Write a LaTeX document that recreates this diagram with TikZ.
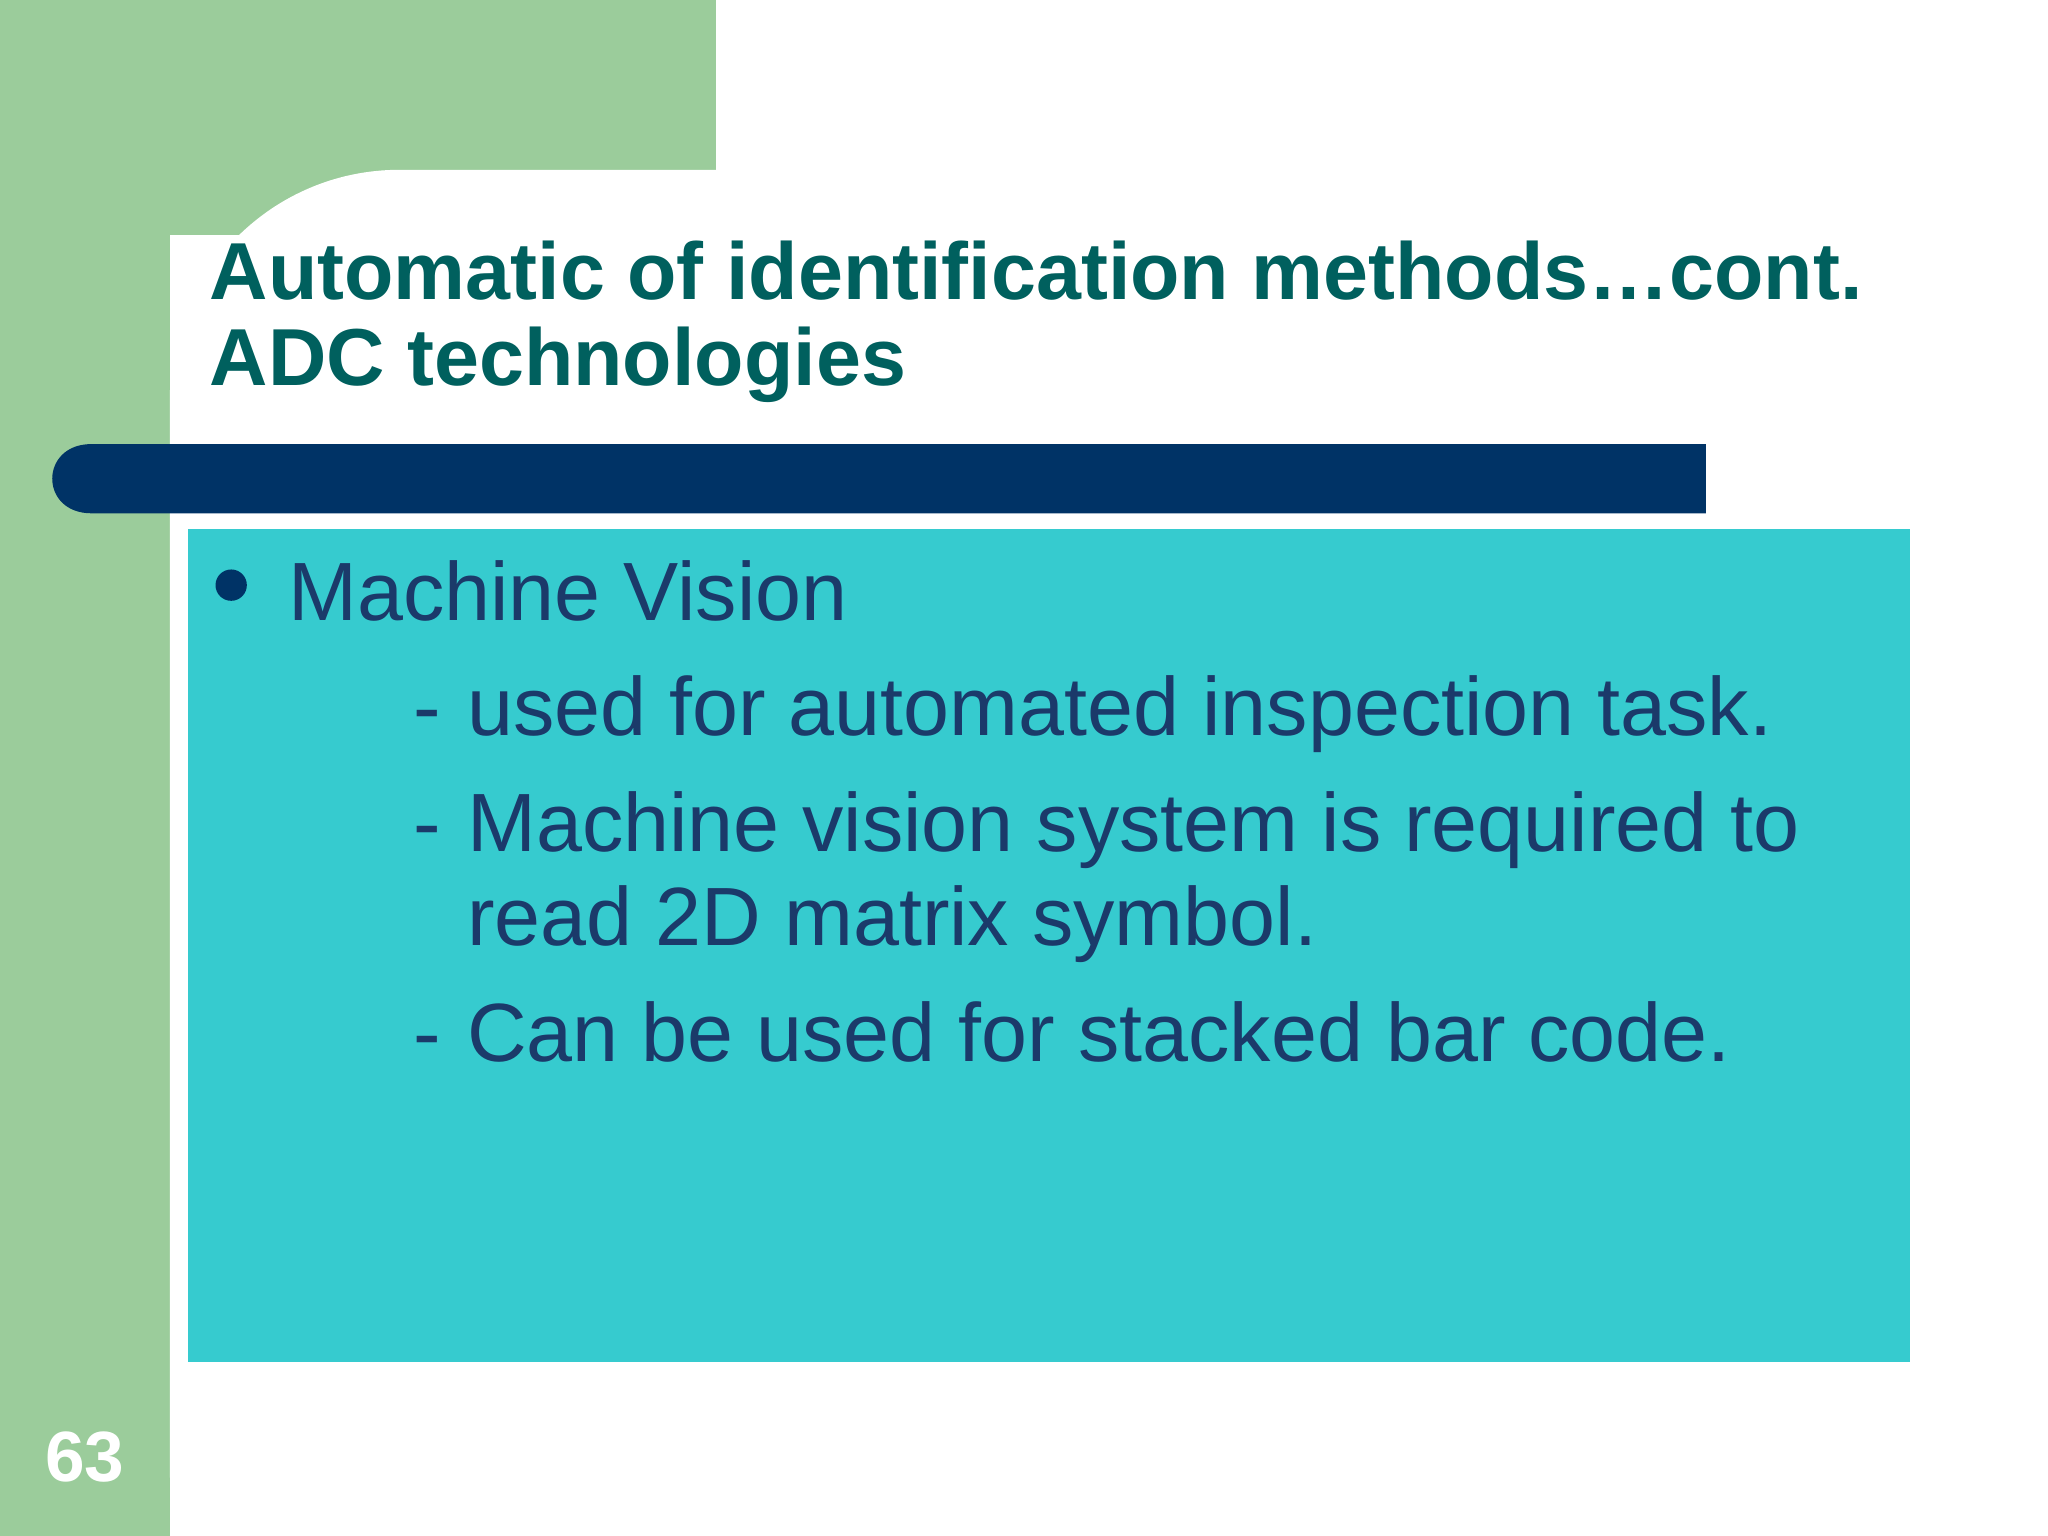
\documentclass[tikz,border=0pt]{standalone}
\usepackage{fontspec}
\setmainfont{Liberation Sans}
\definecolor{sgreen}{HTML}{9BCC9B}
\definecolor{navy}{HTML}{003366}
\definecolor{cyanbox}{HTML}{36CBCF}
\definecolor{titlec}{HTML}{00605E}
\definecolor{textc}{HTML}{1B3A6A}
\tikzset{
 ttl/.style={anchor=base west,inner sep=0,font=\fontsize{17.6}{20}\selectfont\bfseries,text=titlec},
 body/.style={anchor=base west,inner sep=0,font=\fontsize{18}{20}\selectfont,text=textc},
}
\begin{document}
\begin{tikzpicture}[x=0.01cm,y=-0.01cm]
\useasboundingbox (0,0) rectangle (1568,1176);
\clip (0,0) rectangle (1568,1176);
\fill[white] (0,0) rectangle (1568,1176);
\fill[sgreen] (0,0) rectangle (548,180);
\fill[sgreen] (0,0) rectangle (130,1176);
\fill[white,rounded corners=50] (130,130) rectangle (1700,1300);
\fill[navy] (1306,340) -- (70,340) .. controls (30,340) and (30,393) .. (70,393) -- (1306,393) -- cycle;
\fill[cyanbox] (144,405) rectangle (1462,1043);
\node[ttl] (t1) at (160,229) {Automatic of identification methods…cont.};
\node[ttl] (t2) at (160,295) {ADC technologies};
\fill[navy] (177,448) circle (12);
\node[body] (m) at (220,475) {Machine Vision};
\node[body] (d1) at (316,563) {-};
\node[body] (s1) at (357,563) {used for automated inspection task.};
\node[body] (d2) at (316,652) {-};
\node[body] (s2) at (357,652) {Machine vision system is required to};
\node[body] (s2b) at (357,724) {read 2D matrix symbol.};
\node[body] (d3) at (316,813) {-};
\node[body] (s3) at (357,813) {Can be used for stacked bar code.};
\node[anchor=base west,inner sep=0,font=\fontsize{15.5}{18}\selectfont\bfseries,text=white] (n) at (34,1134) {63};
\end{tikzpicture}
\end{document}
